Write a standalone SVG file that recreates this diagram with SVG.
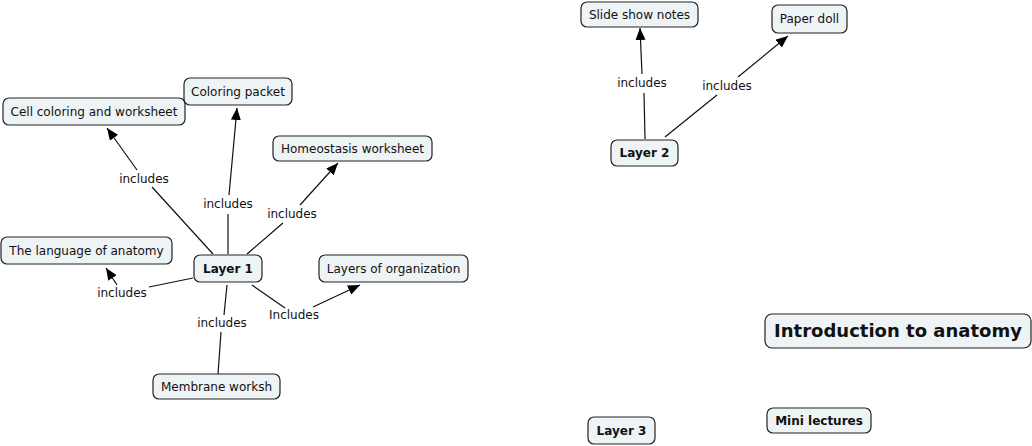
<svg xmlns="http://www.w3.org/2000/svg" width="1032" height="446" viewBox="0 0 1032 446">
<style>
.n rect{fill:#eef3f5;stroke:#222;stroke-width:1.2}
.n text{font-family:"DejaVu Sans",Verdana,sans-serif;font-size:12px;fill:#111;text-anchor:middle}
.n text.b{font-weight:bold}
.c line{stroke:#111;stroke-width:1.2}
.c text{font-family:"DejaVu Sans",Verdana,sans-serif;font-size:12px;fill:#111;text-anchor:middle}
</style>
<defs>
<marker id="ah" viewBox="0 0 12 10" refX="12" refY="5" markerWidth="12" markerHeight="10" markerUnits="userSpaceOnUse" orient="auto">
<path d="M0,0 L12,5 L0,10 Z" fill="#000"/>
</marker>
</defs>
<rect width="1032" height="446" fill="#fff"/>
<g id="connectors" class="c">
<line x1="213" y1="254" x2="152" y2="187"/>
<line x1="137" y1="170" x2="107" y2="128" marker-end="url(#ah)"/>
<text x="144" y="183">includes</text>
<line x1="228" y1="254" x2="228" y2="214"/>
<line x1="229" y1="195" x2="237" y2="108" marker-end="url(#ah)"/>
<text x="228" y="208">includes</text>
<line x1="247" y1="254" x2="283" y2="223"/>
<line x1="300" y1="205" x2="338" y2="163" marker-end="url(#ah)"/>
<text x="292" y="218">includes</text>
<line x1="193" y1="278" x2="149" y2="287"/>
<line x1="117" y1="285" x2="106" y2="268" marker-end="url(#ah)"/>
<text x="122" y="297">includes</text>
<line x1="252" y1="285" x2="285" y2="308"/>
<line x1="313" y1="307" x2="360" y2="285" marker-end="url(#ah)"/>
<text x="294" y="319">Includes</text>
<line x1="227" y1="285" x2="224" y2="315"/>
<line x1="221" y1="332" x2="218" y2="374"/>
<text x="222" y="327">includes</text>
<line x1="645" y1="139" x2="644" y2="93"/>
<line x1="642" y1="74" x2="640" y2="28" marker-end="url(#ah)"/>
<text x="642" y="87">includes</text>
<line x1="665" y1="137" x2="717" y2="95"/>
<line x1="738" y1="77" x2="788" y2="36" marker-end="url(#ah)"/>
<text x="727" y="90">includes</text>
</g>
<g id="cell" class="n"><rect x="3" y="98" width="182" height="27" rx="6"/><text x="94" y="115.5">Cell coloring and worksheet</text></g>
<g id="coloring" class="n"><rect x="184" y="78" width="108" height="27" rx="6"/><text x="238" y="95.5">Coloring packet</text></g>
<g id="homeostasis" class="n"><rect x="273" y="136" width="159" height="25" rx="6"/><text x="352.5" y="152.5">Homeostasis worksheet</text></g>
<g id="layer1" class="n"><rect x="194" y="255" width="68" height="27" rx="6"/><text class="b" x="228" y="272.5">Layer 1</text></g>
<g id="language" class="n"><rect x="1" y="237" width="171" height="27" rx="6"/><text x="86.5" y="254.5">The language of anatomy</text></g>
<g id="layersorg" class="n"><rect x="319" y="255" width="149" height="27" rx="6"/><text x="393.5" y="272.5">Layers of organization</text></g>
<g id="membrane" class="n"><rect x="153" y="374" width="127" height="25" rx="6"/><text x="216.5" y="390.5">Membrane worksh</text></g>
<g id="slideshow" class="n"><rect x="581" y="2" width="117" height="25" rx="6"/><text x="639.5" y="18.5">Slide show notes</text></g>
<g id="paperdoll" class="n"><rect x="772" y="5" width="75" height="28" rx="6"/><text x="809.5" y="23">Paper doll</text></g>
<g id="layer2" class="n"><rect x="611" y="140" width="67" height="26" rx="6"/><text class="b" x="644.5" y="157">Layer 2</text></g>
<g id="intro" class="n"><rect x="765" y="314" width="266" height="34" rx="7"/><text class="b" x="898" y="337" style="font-size:18px">Introduction to anatomy</text></g>
<g id="mini" class="n"><rect x="767" y="408" width="104" height="25" rx="6"/><text class="b" x="819" y="425">Mini lectures</text></g>
<g id="layer3" class="n"><rect x="588" y="417" width="67" height="27" rx="6"/><text class="b" x="621.5" y="434.5">Layer 3</text></g>
</svg>
